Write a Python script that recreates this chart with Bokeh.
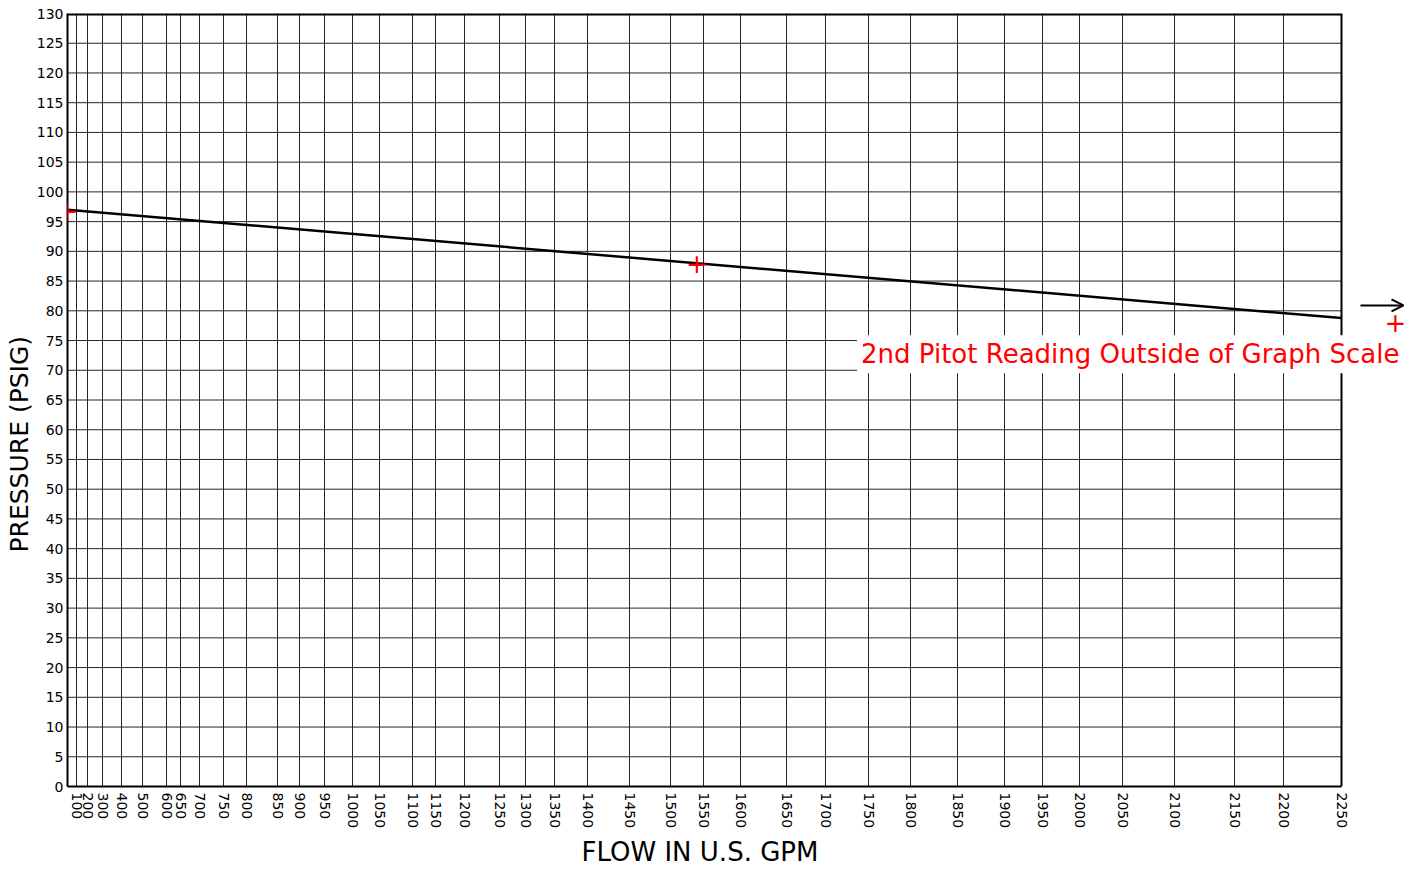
import numpy as np
from bokeh.plotting import figure
from bokeh.models import FixedTicker, Label, Arrow, OpenHead, Range1d, Title
from bokeh.embed import file_html
from bokeh.resources import INLINE

# ---- data -------------------------------------------------------------
# flow tick labels printed on the N^1.85 hydraulic graph paper
flow_ticks = [100, 200, 300, 400, 500, 600, 650, 700, 750, 800, 850, 900, 950,
              1000, 1050, 1100, 1150, 1200, 1250, 1300, 1350, 1400, 1450, 1500,
              1550, 1600, 1650, 1700, 1750, 1800, 1850, 1900, 1950, 2000, 2050,
              2100, 2150, 2200, 2250]
# position of each flow tick along the paper's (non-linear) flow scale, paper units
paper_scale = [9, 20, 35, 54, 75, 99, 113, 132, 156, 179, 210, 232, 257,
               285, 312, 345, 368, 397, 432, 458, 487, 520, 562, 603,
               636, 673, 719, 758, 801, 843, 890, 937, 975, 1012, 1055,
               1107, 1167, 1216, 1274]
pressure_ticks = list(range(0, 131, 5))

static_flow, static_pressure = 0, 97        # static reading
residual_flow, residual_pressure = 1540, 88  # residual / 1st pitot reading
note_text = "2nd Pitot Reading Outside of Graph Scale"
x_title = "FLOW IN U.S. GPM"
y_title = "PRESSURE (PSIG)"


def to_paper(q):
    return float(np.interp(q, [0] + flow_ticks, [0] + paper_scale))


x_max = paper_scale[-1]
y_max = pressure_ticks[-1]
u_static = to_paper(static_flow)
u_res = to_paper(residual_flow)
slope = (residual_pressure - static_pressure) / (u_res - u_static)
line_x = [u_static, x_max]
line_y = [static_pressure, static_pressure + slope * (x_max - u_static)]

# ---- figure -----------------------------------------------------------
EXTRA = 67  # room right of the paper for the off-scale note
p = figure(width=1413, height=875,
           x_range=Range1d(0, x_max + EXTRA), y_range=Range1d(0, y_max),
           output_backend="svg", toolbar_location=None,
           min_border_left=67, min_border_right=5,
           min_border_top=13, min_border_bottom=89)

p.background_fill_color = "white"
p.border_fill_color = "white"
p.outline_line_color = None

xt = FixedTicker(ticks=paper_scale)
yt = FixedTicker(ticks=pressure_ticks)
p.xaxis.ticker = xt
p.yaxis.ticker = yt
p.xgrid.ticker = xt
p.xaxis.bounds = (0, x_max)
p.xaxis.major_label_overrides = {u: str(q) for u, q in zip(paper_scale, flow_ticks)}
p.xaxis.major_label_orientation = "vertical"

for ax in (p.xaxis, p.yaxis):
    ax.axis_line_color = "black"
    ax.axis_line_width = 2
    ax.major_tick_out = 0
    ax.major_tick_in = 0
    ax.minor_tick_out = 0
    ax.minor_tick_in = 0
    ax.major_label_text_font = "DejaVu Sans"
    ax.major_label_text_color = "black"

p.xaxis.major_label_text_font_size = "14px"
p.xaxis.major_label_standoff = 6
p.yaxis.major_label_text_font_size = "14px"
p.yaxis.major_label_standoff = 4

# axis titles placed as side titles so they can sit off-centre like the paper
has_standoff = "standoff" in Title.properties()
title_kw = dict(text_font="DejaVu Sans", text_font_style="normal", text_color="black")
xt_kw = dict(title_kw, standoff=6) if has_standoff else title_kw
yt_kw = dict(title_kw, standoff=0) if has_standoff else title_kw
p.add_layout(Title(text=x_title, align="left", offset=514,
                   text_font_size="26px", **xt_kw), "below")
p.add_layout(Title(text=y_title, align="left", offset=234,
                   text_font_size="25px", **yt_kw), "left")

p.xgrid.grid_line_color = "#262626"
p.xgrid.grid_line_width = 1
p.ygrid.visible = False

# horizontal rulings of the paper, limited to the paper's width
rules = pressure_ticks[1:-1]
p.segment(x0=[0] * len(rules), x1=[x_max] * len(rules), y0=rules, y1=rules,
          line_color="#262626", line_width=1)
# paper border: top and right edges
p.segment(x0=[0, x_max], x1=[x_max, x_max], y0=[y_max, 0], y1=[y_max, y_max],
          line_color="black", line_width=[4, 2])

p.line(line_x, line_y, line_color="black", line_width=2.5)

for q, pr in [(static_flow, static_pressure), (residual_flow, residual_pressure)]:
    p.add_layout(Label(x=to_paper(q), y=pr, text="+", text_color="red",
                       text_font="DejaVu Sans", text_font_size="26px",
                       text_align="center", text_baseline="middle"))

# off-scale 2nd pitot reading indicator
p.add_layout(Arrow(end=OpenHead(size=12, line_width=2, line_color="black"),
                   x_start=x_max + 19, y_start=80.9, x_end=x_max + 62, y_end=80.9,
                   line_width=2, line_color="black"))
p.add_layout(Label(x=x_max + 54, y=78.2, text="+", text_color="red",
                   text_font="DejaVu Sans", text_font_size="26px",
                   text_align="center", text_baseline="middle"))
p.add_layout(Label(x=x_max + 62, y=72.7, text=note_text,
                   text_color="red", text_font="DejaVu Sans", text_font_size="26px",
                   text_align="right", text_baseline="middle",
                   background_fill_color="white", padding=4))

open("out.html", "w").write(file_html(p, INLINE))
